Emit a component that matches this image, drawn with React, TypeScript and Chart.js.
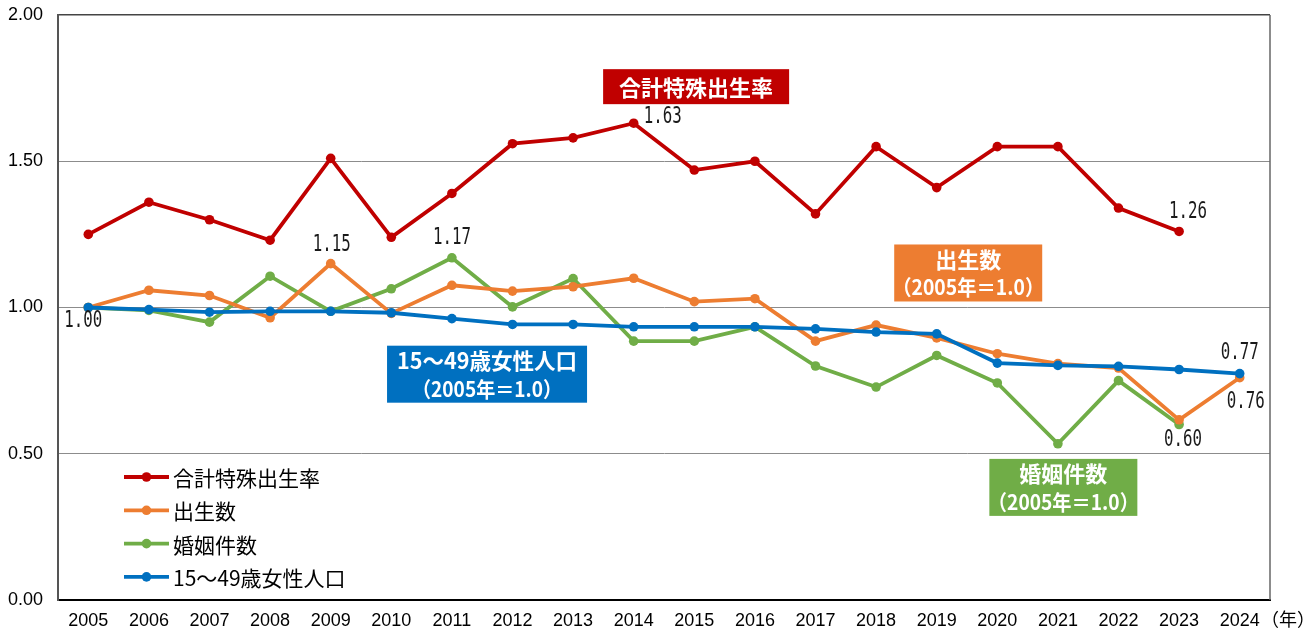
import React, { useEffect, useRef } from 'react';
import { Chart, registerables } from 'chart.js';

Chart.register(...registerables);

const years = ['2005', '2006', '2007', '2008', '2009', '2010', '2011', '2012', '2013', '2014', '2015', '2016', '2017', '2018', '2019', '2020', '2021', '2022', '2023', '2024'];
const seriesNames = ['合計特殊出生率', '出生数', '婚姻件数', '15～49歳女性人口'];
const tfr = [1.25, 1.36, 1.30, 1.23, 1.51, 1.24, 1.39, 1.56, 1.58, 1.63, 1.47, 1.50, 1.32, 1.55, 1.41, 1.55, 1.55, 1.34, 1.26, null];
const births = [1.00, 1.059, 1.041, 0.965, 1.15, 0.98, 1.076, 1.056, 1.071, 1.10, 1.02, 1.03, 0.885, 0.94, 0.896, 0.842, 0.808, 0.793, 0.616, 0.76];
const marriages = [1.00, 0.99, 0.95, 1.107, 0.987, 1.064, 1.17, 1.002, 1.099, 0.885, 0.885, 0.934, 0.80, 0.728, 0.836, 0.742, 0.534, 0.75, 0.60, null];
const women = [1.00, 0.993, 0.984, 0.987, 0.987, 0.982, 0.962, 0.942, 0.942, 0.934, 0.934, 0.934, 0.927, 0.916, 0.91, 0.81, 0.802, 0.799, 0.788, 0.774];
const yTicks = [0, 0.5, 1.0, 1.5, 2.0];
const yearUnit = '（年）';

const colors = ['#C00000', '#ED7D31', '#70AD47', '#0070C0'];

// value labels: [seriesIndex, pointIndex, dx, dy]
const valueLabels: [number, number, number, number][] = [
  [3, 0, -5, 14],
  [1, 4, 1, -19],
  [2, 6, 0, -20],
  [0, 9, 29, -6],
  [0, 18, 9, -19],
  [3, 19, 0, -21],
  [1, 19, 6, 24],
  [2, 18, 4, 16],
];

// annotation boxes: lines, colour, centre (category index, value), size
const boxes = [
  { lines: ['合計特殊出生率'], color: '#C00000', xi: 10.03, yv: 1.755, w: 186, h: 35, widths: [160] },
  { lines: ['出生数', '（2005年＝1.0）'], color: '#ED7D31', xi: 14.52, yv: 1.118, w: 148, h: 57, widths: [80, 152] },
  { lines: ['15～49歳女性人口', '（2005年＝1.0）'], color: '#0070C0', xi: 6.58, yv: 0.772, w: 200, h: 57, widths: [180, 150] },
  { lines: ['婚姻件数', '（2005年＝1.0）'], color: '#70AD47', xi: 16.09, yv: 0.385, w: 148, h: 57, widths: [100, 151] },
];

const CJK = '"Noto Sans CJK JP", "Noto Sans", sans-serif';
const MONO = '"DejaVu Sans Mono", "Liberation Mono", monospace';
const SANS = '"Liberation Sans", Arial, sans-serif';

const decorPlugin = {
  id: 'decor',
  afterDraw(chart: any) {
    const { ctx, chartArea } = chart;
    const xs = chart.scales.x;
    const ys = chart.scales.y;
    ctx.save();
    // right frame
    ctx.strokeStyle = '#666';
    ctx.lineWidth = 1.5;
    ctx.beginPath();
    ctx.moveTo(chartArea.right, chartArea.top);
    ctx.lineTo(chartArea.right, chartArea.bottom);
    ctx.stroke();

    // year unit
    ctx.fillStyle = '#000';
    ctx.font = `18px ${CJK}`;
    ctx.textAlign = 'left';
    ctx.textBaseline = 'middle';
    ctx.fillText(yearUnit, chartArea.right - 9, chartArea.bottom + 19);

    // annotation boxes
    boxes.forEach((b) => {
      const cx = xs.getPixelForValue(b.xi);
      const cy = ys.getPixelForValue(b.yv);
      const left = cx - b.w / 2;
      const top = cy - b.h / 2;
      ctx.fillStyle = b.color;
      ctx.fillRect(left, top, b.w, b.h);
      ctx.fillStyle = '#fff';
      ctx.font = `bold 22px ${CJK}`;
      ctx.textAlign = 'center';
      ctx.textBaseline = 'middle';
      if (b.lines.length === 1) {
        ctx.fillText(b.lines[0], cx, cy + 1, b.widths[0]);
      } else {
        ctx.fillText(b.lines[0], cx, top + 15, b.widths[0]);
        ctx.font = `bold 21px ${CJK}`;
        ctx.fillText(b.lines[1], cx, top + 43, b.widths[1]);
      }
    });

    // value labels
    ctx.fillStyle = '#1a1a1a';
    ctx.font = `23px ${MONO}`;
    ctx.textAlign = 'center';
    ctx.textBaseline = 'middle';
    valueLabels.forEach(([si, pi, dx, dy]) => {
      const v = chart.data.datasets[si].data[pi];
      if (v == null) return;
      const px = xs.getPixelForValue(pi);
      const py = ys.getPixelForValue(v);
      ctx.fillText(Number(v).toFixed(2), px + dx, py + dy, 38);
    });

    // legend
    const lx = chartArea.left + 66;
    const ly0 = chartArea.bottom - 123;
    chart.data.datasets.forEach((ds: any, i: number) => {
      const y = ly0 + i * 33.3;
      ctx.strokeStyle = ds.borderColor;
      ctx.lineWidth = 3.8;
      ctx.beginPath();
      ctx.moveTo(lx, y);
      ctx.lineTo(lx + 45, y);
      ctx.stroke();
      ctx.fillStyle = ds.borderColor;
      ctx.beginPath();
      ctx.arc(lx + 22.5, y, 4.8, 0, Math.PI * 2);
      ctx.fill();
      ctx.fillStyle = '#000';
      ctx.font = `21px ${CJK}`;
      ctx.textAlign = 'left';
      ctx.textBaseline = 'middle';
      ctx.fillText(ds.label, lx + 49, y + 1);
    });
    ctx.restore();
  },
};

export default function App() {
  const ref = useRef<HTMLCanvasElement | null>(null);
  useEffect(() => {
    if (!ref.current) return;
    const series = [tfr, births, marriages, women];
    const orders = [3, 1, 2, 0];
    const chart = new Chart(ref.current, {
      type: 'line',
      data: {
        labels: years,
        datasets: series.map((d, i) => ({
          label: seriesNames[i],
          data: d,
          borderColor: colors[i],
          backgroundColor: colors[i],
          pointBackgroundColor: colors[i],
          pointBorderColor: colors[i],
          borderWidth: 3.8,
          pointRadius: 4.8,
          pointBorderWidth: 0,
          tension: 0,
          spanGaps: false,
          order: orders[i],
        })),
      },
      options: {
        animation: false,
        responsive: true,
        maintainAspectRatio: false,
        layout: { padding: { top: 15, right: 46, left: 0, bottom: 0 } },
        plugins: {
          legend: { display: false },
          tooltip: { enabled: false },
        },
        scales: {
          x: {
            type: 'category',
            offset: true,
            grid: { display: false, drawTicks: false },
            border: { display: true, color: '#000', width: 2 },
            ticks: {
              color: '#000',
              font: { family: SANS, size: 18 },
              padding: 10,
              maxRotation: 0,
              autoSkip: false,
            },
            afterFit: (s: any) => {
              s.height = 31;
              s.paddingLeft = 0;
              s.paddingRight = 0;
            },
          },
          y: {
            min: 0,
            max: 2,
            afterBuildTicks: (s: any) => { s.ticks = yTicks.map((v) => ({ value: v })); },
            grid: {
              drawTicks: false,
              color: (c: any) => (c.tick && c.tick.value === 2 ? '#444' : '#8c8c8c'),
              lineWidth: (c: any) => (c.tick && c.tick.value === 2 ? 1.5 : 1),
            },
            border: { display: true, color: '#555', width: 2 },
            ticks: {
              color: '#000',
              font: { family: SANS, size: 18 },
              padding: 15,
              callback: (v: any) => Number(v).toFixed(2),
            },
            afterFit: (s: any) => {
              s.width = 58;
              s.paddingTop = 0;
              s.paddingBottom = 0;
            },
          },
        },
      },
      plugins: [decorPlugin],
    } as any);
    return () => chart.destroy();
  }, []);
  return (
    <div style={{ position: 'absolute', left: 0, top: 0, width: 1316, height: 631, background: '#fff' }}>
      <canvas ref={ref} />
    </div>
  );
}
